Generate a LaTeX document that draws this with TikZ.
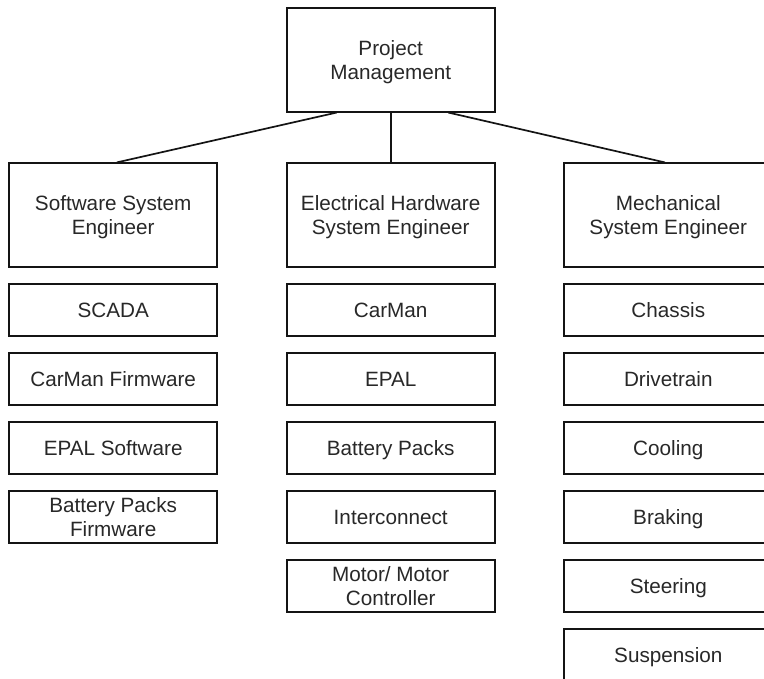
\documentclass[tikz,border=0pt]{standalone}
\usepackage{fontspec}
\setmainfont{Liberation Sans}
\definecolor{inkline}{RGB}{20,20,20}
\definecolor{inktext}{RGB}{40,40,40}
\begin{document}
\begin{tikzpicture}[x=1pt,y=-1pt,
  orgbox/.style={draw=inkline, line width=1.7pt, fill=white, inner sep=0pt,
    align=center, text=inktext, minimum width=208pt, text depth=0pt,
    font=\fontsize{20.7}{24.5}\selectfont},
  headbox/.style={orgbox, minimum height=103.4pt},
  subbox/.style={orgbox, minimum height=51.4pt},
  link/.style={draw=inkline, line width=1.7pt}]
  \useasboundingbox (0,0) rectangle (764,679);
  \clip (0,0) rectangle (764,679);

  % top level and the three engineering leads
  \node[headbox] (pm) at (390.7,60)  {Project\\Management};
  \node[headbox] (sw) at (113.2,215) {Software System\\Engineer};
  \node[headbox] (eh) at (390.7,215) {Electrical Hardware\\System Engineer};
  \node[headbox] (me) at (668.3,215) {Mechanical\\System Engineer};

  % software subsystems
  \node[subbox] (sw1) at (113.2,310) {SCADA};
  \node[subbox] (sw2) at (113.2,379) {CarMan Firmware};
  \node[subbox] (sw3) at (113.2,448) {EPAL Software};
  \node[subbox] (sw4) at (113.2,517) {Battery Packs\\Firmware};

  % electrical subsystems
  \node[subbox] (eh1) at (390.7,310) {CarMan};
  \node[subbox] (eh2) at (390.7,379) {EPAL};
  \node[subbox] (eh3) at (390.7,448) {Battery Packs};
  \node[subbox] (eh4) at (390.7,517) {Interconnect};
  \node[subbox] (eh5) at (390.7,586) {Motor/ Motor\\Controller};

  % mechanical subsystems
  \node[subbox] (me1) at (668.3,310) {Chassis};
  \node[subbox] (me2) at (668.3,379) {Drivetrain};
  \node[subbox] (me3) at (668.3,448) {Cooling};
  \node[subbox] (me4) at (668.3,517) {Braking};
  \node[subbox] (me5) at (668.3,586) {Steering};
  \node[subbox] (me6) at (668.3,655) {Suspension};

  % reporting lines
  \draw[link] ([xshift=-54pt]pm.south) -- ([xshift=3.5pt]sw.north);
  \draw[link] (pm.south) -- (eh.north);
  \draw[link] ([xshift=57.6pt]pm.south) -- ([xshift=-3.3pt]me.north);
\end{tikzpicture}
\end{document}
